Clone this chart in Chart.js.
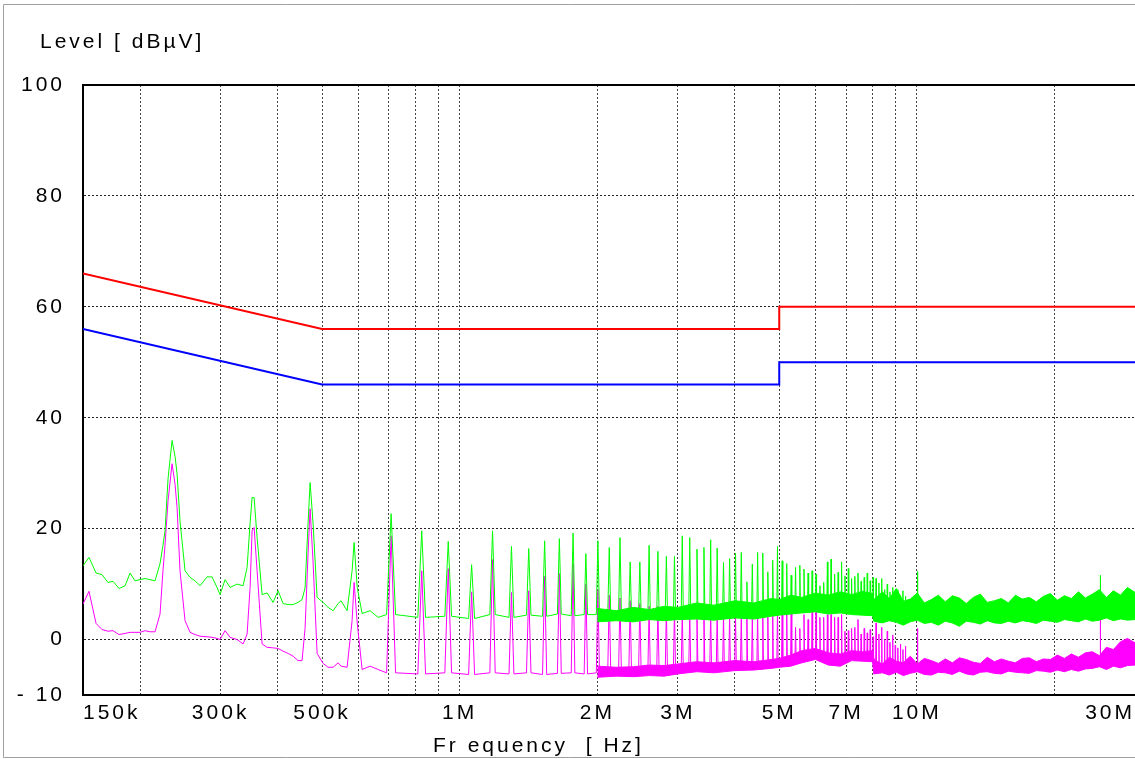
<!DOCTYPE html>
<html>
<head>
<meta charset="utf-8">
<title>Conducted emission scan</title>
<script src="https://cdn.jsdelivr.net/npm/chart.js@4.4.1/dist/chart.umd.min.js"></script>
<style>
  html, body { margin: 0; padding: 0; background: #fff; }
  #wrap { width: 1135px; height: 759px; }
</style>
</head>
<body>
<div id="wrap"><canvas id="scan" width="1135" height="759"></canvas></div>
<script>
// -----------------------------
// Axis ticks / labels
// -----------------------------
const levelTitle = 'Level [ dBµV]';
const freqTitle = 'Fr equency  [ Hz]';
const levelTicks = [-10, 0, 20, 40, 60, 80, 100];
const freqGridKHz = [150, 200, 300, 400, 500, 600, 700, 800, 900, 1000, 2000, 3000, 4000, 5000, 6000, 7000, 8000, 9000, 10000, 20000, 30000];
const freqLabelKHz = [150, 300, 500, 1000, 2000, 3000, 5000, 7000, 10000, 30000];
const freqLabelText = ['150k', '300k', '500k', '1M', '2M', '3M', '5M', '7M', '10M', '30M'];

// -----------------------------
// Limit lines
// -----------------------------
const limitKHz = [150, 500, 5000, 5000, 30000];
const limitQP = [66, 56, 56, 60, 60];
const limitAV = [56, 46, 46, 50, 50];

// -----------------------------
// Low band sweep 150k .. 663k (peak = green, average = magenta)
// -----------------------------
const sweepKHz = [150, 154.6, 160.2, 165.1, 170.1, 174.5, 179.8, 185.4, 190.1, 194.9,
  199.9, 205, 210.2, 215.6, 221.1, 224.4, 226.7, 230.2, 234.9, 238.5,
  240.9, 244.5, 250.8, 257.2, 263.7, 270.5, 280.2, 287.3, 294.6, 299.1,
  306.8, 314.6, 325.9, 335.9, 342.8, 348, 351.5, 355.1, 360.5, 369.7,
  379.1, 390.7, 400.7, 410.9, 421.4, 432.1, 443.1, 452.1, 459, 466,
  470.8, 477.9, 487.7, 502.6, 515.5, 528.6, 542.1, 550.3, 567.2, 581.7,
  587.6, 596.9, 611.8, 636.9, 663.1];
const sweepPeak = [13.3, 14.8, 12, 11.7, 10.3, 10.5, 9.2, 9.7, 12, 10.6,
  10.8, 11, 10.8, 10.6, 13.7, 17, 19.6, 29, 35.9, 33,
  29.9, 21.4, 12.4, 11.2, 10.6, 9.7, 11.3, 11.3, 9.4, 8.1,
  10.8, 9.4, 10, 9.7, 13, 21, 25.6, 25.6, 18.4, 8.1,
  8.4, 6.7, 8.8, 6.5, 6.3, 6.3, 6.7, 7.2, 9.3, 21,
  28.3, 21, 7.6, 6.7, 5.8, 5.2, 6.5, 7, 5.2, 12.4,
  17.5, 9.4, 4.7, 5.2, 4];
const sweepAvg = [6.4, 8.7, 2.9, 1.8, 1.5, 1.6, 0.9, 1.1, 1.3, 1.3,
  1.3, 1.6, 1.4, 1.4, 4.6, 12.4, 17, 25, 31.7, 28,
  23.8, 12.4, 3.4, 1.3, 0.9, 0.6, 0.5, 0.4, 0.2, 0,
  1.6, 0.4, 0, -0.8, 1, 9.4, 19.6, 20.2, 12.4, -0.8,
  -1.4, -1.5, -1.6, -2.1, -2.5, -3, -3.8, -3.8, 2, 15.5,
  23.6, 14, -2.5, -4.3, -5, -5, -4.2, -4.8, -5, 3.4,
  10.3, 3, -5.4, -4.8, -5.4];

// -----------------------------
// Discrete spikes (switcher harmonics ~118 kHz apart, plus two stray ones)
// -----------------------------
const spikeKHz = [708, 826, 944, 1062, 1180, 1298, 1416, 1534, 1652, 1770,
  1888, 2006, 2124, 2242, 2360, 2478, 2596, 2714, 2832, 2950,
  3068, 3186, 3304, 3422, 3540, 3658, 3776, 3894, 4012, 4130,
  4248, 4366, 4484, 4602, 4720, 4838, 4956, 5074, 5192, 5310,
  5428, 5546, 5664, 5782, 5900, 6018, 6136, 6254, 6372, 6490,
  6608, 6726, 6844, 6962, 7080, 7198, 7316, 7434, 7552, 7670,
  7788, 7906, 8024, 8142, 8260, 8378, 8496, 8614, 8732, 8850,
  8968, 9086, 9204, 9322, 9440,
  10030, 25200];
const peakTop = [22.7, 19.6, 17.7, 13.5, 19.6, 16.8, 16.4, 17.8, 18.2, 19.2,
  15.5, 17.8, 16.6, 18.4, 14.0, 14.0, 17.0, 15.9, 15.0, 15.0,
  18.7, 18.4, 16.3, 16.6, 18.0, 16.5, 13.9, 14.6, 15.6, 15.7,
  10.4, 13.6, 15.7, 15.6, 12.2, 14.3, 16.8, 14.2, 13.7, 11.6,
  13.0, 13.4, 12.7, 12.0, 12.4, 11.8, 9.7, 10.3, 14.0, 14.5,
  11.8, 12.1, 14.0, 11.5, 12.8, 11.0, 11.4, 12.0, 10.5, 11.2,
  12.0, 10.6, 11.2, 11.0, 10.2, 11.0, 9.0, 10.0, 8.6, 9.4,
  8.2, 9.0, 8.0, 8.8, 7.8,
  12.3, 11.6];
const peakFloor = [4.5, 4.0, 4.2, 3.8, 4.5, 4.0, 4.4, 4.2, 4.6, 4.3,
  4.5, 4.5, 4.4, 4.6, 4.5, 4.6, 4.5, 4.7, 4.8, 4.7,
  4.9, 5.0, 5.0, 5.1, 5.0, 5.2, 5.2, 5.3, 5.4, 5.4,
  5.4, 5.5, 5.6, 5.7, 5.8, 5.8, 5.9, 6.0, 6.1, 6.2,
  6.3, 6.4, 6.5, 6.5, 6.6, 6.6, 6.6, 6.5, 6.5, 6.4,
  6.4, 6.4, 6.4, 6.4, 6.3, 6.3, 6.2, 6.2, 6.2, 6.1,
  6.0, 6.0, 6.0, 4.8, 4.8, 4.7, 4.7, 4.6, 4.6, 4.6,
  4.5, 4.5, 4.5, 4.5, 4.5,
  4.8, 5.6];
const avgTop = [18.7, 12.4, 12.8, 8.6, 14.4, 8.5, 8.8, 11.4, 11.9, 13.7,
  10.0, 9.0, 8.0, 7.5, 7.0, 6.5, 6.0, 6.0, 5.5, 5.5,
  5.0, 5.0, 5.0, 5.0, 5.0, 5.0, 4.5, 4.5, 4.5, 4.5,
  4.5, 4.5, 5.0, 5.0, 5.0, 5.5, 5.5, 5.8, 5.2, 5.8,
  2.2, 2.0, 4.5, 3.6, 5.0, 5.0, 4.0, 4.0, 4.5, 4.5,
  4.0, 4.0, 4.5, 1.5, 1.6, 2.0, 2.2, 3.6, 1.0, 2.0,
  1.2, 1.8, 0.5, 3.0, 1.0, 2.2, 0.0, 1.5, -0.5, 0.8,
  -1.0, -1.5, -0.8, -1.8, -1.2,
  2.0, 3.8];
const avgFloor = [-6.0, -6.2, -6.0, -6.3, -6.0, -6.2, -6.0, -6.3, -6.1, -6.0,
  -6.2, -6.0, -5.8, -6.0, -5.8, -5.9, -5.8, -5.6, -5.6, -5.5,
  -5.4, -5.2, -5.0, -5.0, -5.0, -5.0, -4.8, -4.8, -4.7, -4.6,
  -4.6, -4.5, -4.4, -4.3, -4.2, -4.2, -4.0, -3.8, -3.8, -3.6,
  -3.4, -3.0, -2.8, -2.6, -2.5, -2.6, -2.8, -3.0, -3.2, -3.2,
  -3.2, -3.0, -3.0, -2.8, -2.8, -2.8, -2.8, -2.8, -2.8, -2.8,
  -2.8, -2.9, -3.0, -5.2, -5.2, -5.3, -5.3, -5.3, -5.4, -5.4,
  -5.4, -5.4, -5.4, -5.5, -5.5,
  -5.2, -3.5];

// -----------------------------
// Dense noise band 2M .. 30M (upper / lower envelope)
// -----------------------------
const bandKHz = [2000, 2200, 2400, 2600, 2800, 3000, 3300, 3600, 4000, 4400,
  4800, 5000, 5300, 5600, 6000, 6400, 6800, 7200, 7600, 8000,
  8050, 8403, 8705, 9017, 9340, 9675, 10023, 10383, 10755, 11142,
  11541, 11955, 12384, 12828, 13289, 13767, 14260, 14775, 15303, 15853,
  16422, 17011, 17623, 18255, 18911, 19590, 20294, 21023, 21777, 22559,
  23369, 24208, 25077, 25977, 26910, 27877, 28877, 30000];
const peakBandHi = [5.6, 5.2, 5.8, 5.4, 6.0, 5.8, 6.6, 6.2, 7.0, 6.6,
  7.4, 7.2, 8.0, 7.6, 8.4, 8.0, 8.6, 8.1, 8.7, 8.3,
  7.2, 8.6, 7.4, 9.2, 6.9, 7.3, 8.4, 6.6, 7.2, 8.0,
  6.8, 7.9, 7.5, 6.5, 7.6, 8.2, 6.7, 7.0, 7.4, 6.6,
  8.0, 7.3, 7.6, 6.8, 7.8, 8.3, 7.1, 7.9, 7.4, 8.6,
  7.5, 8.2, 9.0, 7.6, 8.8, 8.0, 9.4, 8.5];
const peakBandLo = [3.2, 3.4, 3.2, 3.6, 3.4, 3.6, 3.7, 3.5, 3.9, 3.7,
  4.2, 4.4, 4.6, 4.8, 5.0, 4.6, 4.8, 4.5, 4.4, 4.3,
  3.3, 3.0, 3.4, 3.1, 2.6, 3.2, 3.5, 2.9, 3.1, 2.6,
  3.3, 3.0, 2.4, 3.3, 3.1, 2.8, 3.4, 3.0, 2.9, 3.3,
  3.0, 3.4, 3.2, 2.9, 3.5, 3.3, 3.1, 3.6, 3.4, 3.2,
  3.7, 3.3, 3.5, 3.9, 3.4, 3.7, 3.5, 3.6];
const avgBandHi = [-4.8, -5.0, -4.9, -4.6, -4.7, -4.4, -4.0, -4.2, -3.8, -4.0,
  -3.6, -3.4, -2.8, -2.0, -1.6, -2.4, -2.6, -2.0, -2.2, -2.0,
  -3.6, -4.4, -3.2, -3.9, -4.2, -3.0, -4.4, -3.4, -3.8, -4.3,
  -3.5, -4.2, -3.3, -3.6, -4.1, -4.3, -3.2, -4.0, -3.5, -3.9,
  -4.2, -3.4, -3.3, -4.0, -3.5, -3.6, -2.8, -3.4, -2.6, -3.2,
  -2.4, -2.2, -2.9, -1.4, -1.8, -0.4, 0.2, -0.6];
const avgBandLo = [-6.8, -6.6, -6.7, -6.5, -6.6, -6.2, -5.8, -6.0, -5.6, -5.5,
  -5.2, -5.0, -4.8, -4.2, -3.6, -4.6, -4.8, -3.8, -3.9, -4.0,
  -6.2, -6.0, -6.4, -5.9, -6.5, -6.1, -5.8, -6.3, -6.4, -5.9,
  -6.0, -6.3, -5.7, -6.2, -6.4, -5.9, -5.8, -6.1, -6.2, -5.7,
  -5.9, -6.0, -6.1, -5.6, -5.7, -5.9, -5.5, -5.8, -5.4, -5.7,
  -5.3, -5.2, -4.9, -5.4, -4.8, -5.1, -4.7, -4.6];

// -----------------------------
// Styles
// -----------------------------
const PEAK_COLOR = '#00ff00';
const AVG_COLOR = '#ff00ff';
const QP_COLOR = '#ff0000';
const AV_COLOR = '#0000ff';
const SPIKE_HALF_WIDTH_KHZ = 16; // half width of a spike foot (receiver RBW)
const FONT = '"Liberation Sans", Arial, sans-serif';

// Helper: zip x/y arrays into points
function zip(xs, ys) {
  return xs.map((x, i) => ({ x, y: ys[i] }));
}

// Helper: full trace = low sweep + spikes (each spike: foot, top, foot)
function buildTrace(sweepVals, tops, floors) {
  const pts = zip(sweepKHz, sweepVals);
  spikeKHz.forEach((f, i) => {
    pts.push({ x: f - SPIKE_HALF_WIDTH_KHZ, y: floors[i] });
    pts.push({ x: f, y: tops[i] });
    pts.push({ x: f + SPIKE_HALF_WIDTH_KHZ, y: floors[i] });
  });
  return pts.sort((a, b) => a.x - b.x);
}

function lineSet(data, color, width, extra) {
  return Object.assign({
    data,
    borderColor: color,
    backgroundColor: color,
    borderWidth: width,
    pointRadius: 0,
    fill: false,
    tension: 0
  }, extra || {});
}

// -----------------------------
// Decorations: top frame line, outer frame, axis titles
// -----------------------------
const decorations = {
  id: 'decorations',
  beforeDraw(chart) {
    chart.ctx.letterSpacing = '3px';
  },
  afterDraw(chart) {
    const { ctx, chartArea: a } = chart;
    ctx.save();
    ctx.strokeStyle = '#000';
    ctx.lineWidth = 2;
    ctx.beginPath();
    ctx.moveTo(a.left, a.top);
    ctx.lineTo(a.right, a.top);
    ctx.stroke();

    ctx.strokeStyle = '#a0a0a0';
    ctx.lineWidth = 1;
    ctx.beginPath();
    ctx.moveTo(1135, 4.5);
    ctx.lineTo(3.5, 4.5);
    ctx.lineTo(3.5, 757.5);
    ctx.lineTo(1135, 757.5);
    ctx.stroke();

    ctx.fillStyle = '#000';
    ctx.font = '21px ' + FONT;
    ctx.textAlign = 'left';
    ctx.textBaseline = 'middle';
    ctx.fillText(levelTitle, 40, 42);
    ctx.fillText(freqTitle, 433, 746);
    ctx.restore();
  }
};

const gridColorX = c => (c.index === 0 || c.index === freqGridKHz.length - 1) ? 'rgba(0,0,0,0)' : '#444';
const gridColorY = c => (c.tick && (c.tick.value === -10 || c.tick.value === 100)) ? 'rgba(0,0,0,0)' : '#222';

new Chart(document.getElementById('scan'), {
  type: 'line',
  data: {
    datasets: [
      lineSet(zip(limitKHz, limitQP), QP_COLOR, 2),
      lineSet(zip(limitKHz, limitAV), AV_COLOR, 2),
      lineSet(buildTrace(sweepPeak, peakTop, peakFloor), PEAK_COLOR, 1),
      lineSet(zip(bandKHz, peakBandHi), PEAK_COLOR, 1, { fill: '+1' }),
      lineSet(zip(bandKHz, peakBandLo), PEAK_COLOR, 1),
      lineSet(buildTrace(sweepAvg, avgTop, avgFloor), AVG_COLOR, 1),
      lineSet(zip(bandKHz, avgBandHi), AVG_COLOR, 1, { fill: '+1' }),
      lineSet(zip(bandKHz, avgBandLo), AVG_COLOR, 1)
    ]
  },
  options: {
    responsive: false,
    animation: false,
    devicePixelRatio: 1,
    layout: { padding: { top: 85, left: 0, right: 0, bottom: 0 } },
    plugins: {
      legend: { display: false },
      tooltip: { enabled: false },
      title: { display: false }
    },
    scales: {
      x: {
        type: 'logarithmic',
        min: 150,
        max: 30000,
        afterBuildTicks: scale => { scale.ticks = freqGridKHz.map(v => ({ value: v })); },
        afterFit: scale => {
          scale.height = 64;
          scale.paddingLeft = 0;
          scale.paddingRight = 0;
        },
        grid: { color: gridColorX, lineWidth: 1, drawTicks: false },
        border: { display: true, color: '#000', width: 2, dash: [2, 2] },
        ticks: {
          autoSkip: false,
          maxRotation: 0,
          minRotation: 0,
          align: 'inner',
          padding: 6,
          color: '#000',
          font: { family: FONT, size: 21 },
          callback: v => {
            const i = freqLabelKHz.indexOf(v);
            return i >= 0 ? freqLabelText[i] : '';
          }
        }
      },
      y: {
        type: 'linear',
        min: -10,
        max: 100,
        afterBuildTicks: scale => { scale.ticks = levelTicks.map(v => ({ value: v })); },
        afterFit: scale => { scale.width = 83; },
        grid: { color: gridColorY, lineWidth: 1, drawTicks: false },
        border: { display: true, color: '#000', width: 2, dash: [2, 2] },
        ticks: {
          padding: 18,
          color: '#000',
          font: { family: FONT, size: 21 },
          callback: v => v < 0 ? '- ' + Math.abs(v) : String(v)
        }
      }
    }
  },
  plugins: [decorations]
});
</script>
</body>
</html>
